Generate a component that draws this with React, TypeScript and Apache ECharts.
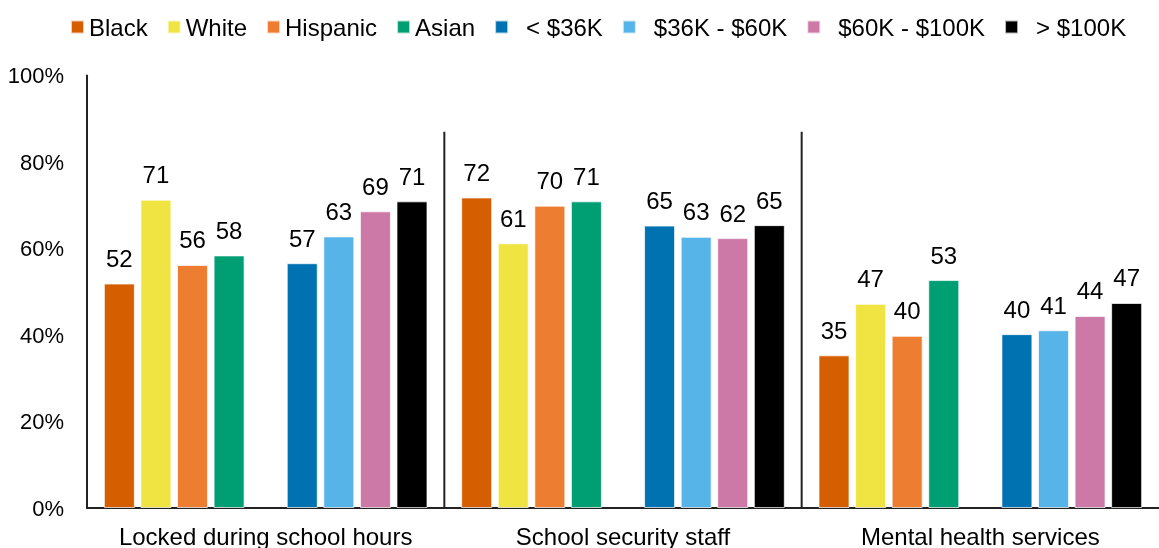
import React, { useEffect, useRef } from "react";
import * as echarts from "echarts";

const categories = ["Locked during school hours", "School security staff", "Mental health services"];
const seriesNames = ["Black", "White", "Hispanic", "Asian", "< $36K", "$36K - $60K", "$60K - $100K", "> $100K"];
const incomeNames = ["< $36K", "$36K - $60K", "$60K - $100K", "> $100K"];
const colors = ["#D55E00", "#F0E442", "#ED7D31", "#009E73", "#0072B2", "#56B4E9", "#CC79A7", "#000000"];

// bar heights (percent)
const black = [51.9, 71.8, 35.3];
const white = [71.3, 61.2, 47.2];
const hispanic = [56.2, 69.9, 39.8];
const asian = [58.4, 70.9, 52.7];
const under36k = [56.6, 65.3, 40.2];
const k36to60 = [62.8, 62.7, 41.1];
const k60to100 = [68.6, 62.4, 44.4];
const over100k = [70.9, 65.4, 47.4];

// data labels as printed
const blackLabels = [52, 72, 35];
const whiteLabels = [71, 61, 47];
const hispanicLabels = [56, 70, 40];
const asianLabels = [58, 71, 53];
const under36kLabels = [57, 65, 40];
const k36to60Labels = [63, 63, 41];
const k60to100Labels = [69, 62, 44];
const over100kLabels = [71, 65, 47];

const yTicks = [0, 20, 40, 60, 80, 100];
const separatorTop = 87;

const FONT = "'Liberation Sans', Arial, sans-serif";

export default function App() {
  const ref = useRef<HTMLDivElement>(null);
  useEffect(() => {
    if (!ref.current) return;
    const chart = echarts.init(ref.current, undefined, { renderer: "svg" });
    const values = [black, white, hispanic, asian, under36k, k36to60, k60to100, over100k];
    const labels = [blackLabels, whiteLabels, hispanicLabels, asianLabels, under36kLabels, k36to60Labels, k60to100Labels, over100kLabels];
    const barSeries: any[] = [];
    const mk = (i: number) => ({
      type: "bar",
      name: seriesNames[i],
      data: values[i],
      barWidth: 31,
      barGap: "18%",
      itemStyle: { color: colors[i], borderColor: "rgba(255,255,255,0.7)", borderWidth: 1 },
      label: {
        show: true,
        position: "top",
        distance: 13,
        color: "#000",
        fontSize: 24,
        fontFamily: FONT,
        formatter: (p: any) => String(labels[i][p.dataIndex]),
      },
    });
    for (let i = 0; i < 4; i++) barSeries.push(mk(i));
    barSeries.push({
      type: "bar",
      name: "__gap",
      data: categories.map(() => null),
      barWidth: 31,
      barGap: "18%",
    });
    for (let i = 4; i < 8; i++) barSeries.push(mk(i));
    barSeries.push({
      type: "custom",
      name: "__sep",
      data: [[0, separatorTop], [1, separatorTop]],
      renderItem: (params: any, api: any) => {
        const top = api.coord([api.value(0), api.value(1)]);
        const base = api.coord([api.value(0), 0]);
        const w = api.size([1, 0])[0];
        const x = top[0] + w / 2;
        return {
          type: "line",
          shape: { x1: x, y1: top[1], x2: x, y2: base[1] },
          style: { stroke: "#222", lineWidth: 2 },
        };
      },
      silent: true,
      z: 5,
    });

    chart.setOption({
      animation: false,
      color: colors,
      textStyle: { fontFamily: FONT },
      legend: {
        data: seriesNames,
        left: 70,
        top: 15,
        padding: 0,
        itemGap: 19,
        itemWidth: 13,
        itemHeight: 13,
        icon: "rect",
        textStyle: {
          fontSize: 24,
          color: "#000",
          fontFamily: FONT,
          rich: { sp: { width: 13, fontSize: 24, fontFamily: FONT } },
        },
        formatter: (name: string) => (incomeNames.includes(name) ? "{sp|}" + name : name),
      },
      grid: { left: 87, top: 75.5, width: 1080, height: 433.5 },
      xAxis: {
        type: "category",
        data: categories,
        axisLine: { show: true, lineStyle: { color: "#222", width: 2 } },
        axisTick: { show: false },
        axisLabel: { color: "#000", fontSize: 24, fontFamily: FONT, margin: 16, interval: 0 },
        splitLine: { show: false },
      },
      yAxis: {
        type: "value",
        min: yTicks[0],
        max: yTicks[yTicks.length - 1],
        interval: 20,
        axisLine: { show: true, lineStyle: { color: "#222", width: 2 } },
        axisTick: { show: false },
        splitLine: { show: false },
        axisLabel: { color: "#000", fontSize: 22, fontFamily: FONT, margin: 23, formatter: "{value}%" },
      },
      series: barSeries,
    });
    return () => chart.dispose();
  }, []);
  return <div ref={ref} style={{ position: "fixed", left: 0, top: 0, width: 1159, height: 548 }} />;
}
